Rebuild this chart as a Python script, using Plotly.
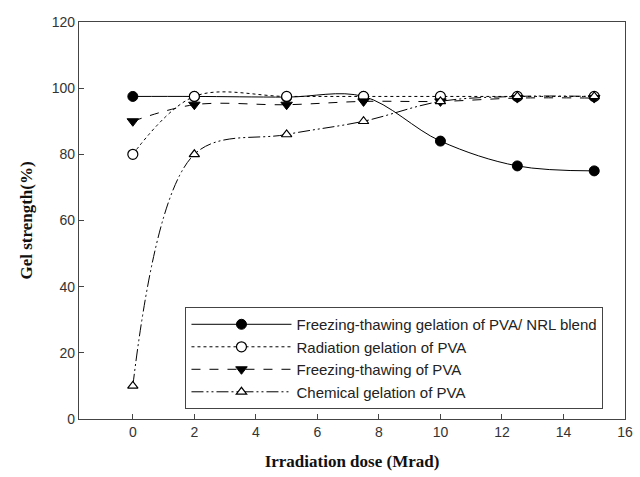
import plotly.graph_objects as go

dose = [0, 2, 5, 7.5, 10, 12.5, 15]
ft_blend = [97.5, 97.5, 97.3, 97.5, 84, 76.5, 75]
radiation = [80, 97.5, 97.5, 97.5, 97.5, 97.5, 97.5]
ft_pva = [90, 95, 95, 96, 96, 97, 97]
chemical = [10, 80, 86, 90, 96, 97.5, 97.5]

names = ["Freezing-thawing gelation of PVA/ NRL blend",
         "Radiation gelation of PVA",
         "Freezing-thawing of PVA",
         "Chemical gelation of PVA"]

fig = go.Figure()
series = [
    (ft_blend, "solid", dict(symbol="circle", color="black", size=10, line=dict(color="black", width=1))),
    (radiation, "dot", dict(symbol="circle", color="white", size=10, line=dict(color="black", width=1.2))),
    (ft_pva, "dash", dict(symbol="triangle-down", color="black", size=10, line=dict(color="black", width=1))),
    (chemical, "12px,3px,2px,3px,2px,3px", dict(symbol="triangle-up", color="white", size=9, line=dict(color="black", width=1.2))),
]
for (y, dash, mk), nm in zip(series, names):
    fig.add_trace(go.Scatter(x=dose, y=y, name=nm, mode="lines+markers",
                             line=dict(color="black", width=1, dash=dash, shape="spline", smoothing=1.0),
                             marker=mk))

axis_common = dict(showline=True, linecolor="#444", linewidth=1.2, mirror=True,
                   ticks="inside", ticklen=5, tickcolor="#444", showgrid=False, zeroline=False,
                   ticklabeloverflow="allow",
                   tickfont=dict(family="Liberation Sans, Arial", size=14, color="#333"))
fig.update_xaxes(range=[-1.75, 16], tickvals=[0, 2, 4, 6, 8, 10, 12, 14, 16], **axis_common,
                 title=dict(text="<b>Irradiation dose (Mrad)</b>", standoff=16,
                            font=dict(family="Liberation Serif, Times New Roman", size=17, color="#111")))
fig.update_yaxes(range=[0, 120], tickvals=[0, 20, 40, 60, 80, 100, 120], **axis_common,
                 title=dict(text="<b>Gel strength(%)</b>", standoff=14,
                            font=dict(family="Liberation Serif, Times New Roman", size=17, color="#111")))
fig.update_layout(
    width=640, height=477, margin=dict(l=79, r=7, t=22, b=58),
    plot_bgcolor="white", paper_bgcolor="white", showlegend=True,
    legend=dict(x=0.195, y=0.282, xanchor="left", yanchor="top", bordercolor="#444", borderwidth=1,
                bgcolor="white", font=dict(family="Liberation Sans, Arial", size=15, color="#222"),
                tracegroupgap=0, itemwidth=100),
)
fig.write_html("out.html")
